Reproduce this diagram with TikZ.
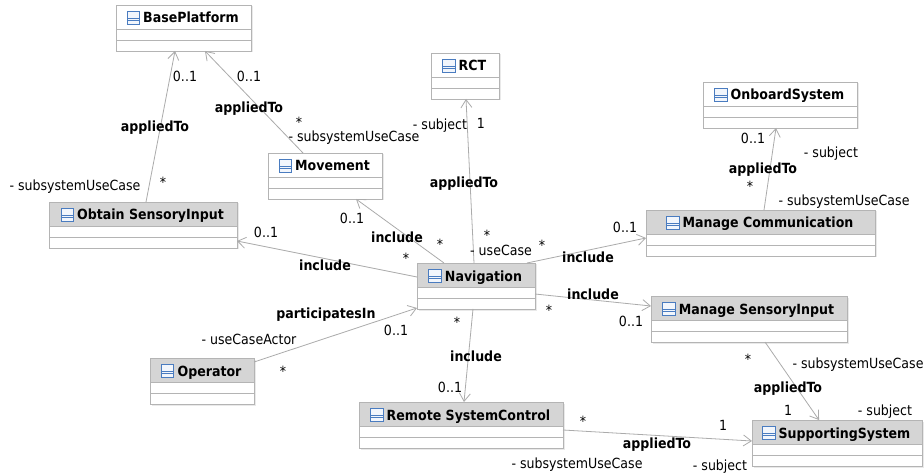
\documentclass[tikz,border=0pt]{standalone}
\usepackage{fontspec}
\setmainfont{DejaVu Sans Condensed}[BoldFont={DejaVu Sans Condensed Bold}]
\usetikzlibrary{arrows.meta}

\definecolor{linegray}{HTML}{ABABAB}
\definecolor{framegray}{HTML}{B4B4B4}
\definecolor{headgray}{HTML}{D5D5D5}
\definecolor{shadowgray}{HTML}{E9E9E9}
\definecolor{iconblue}{HTML}{4A7CC0}
\definecolor{iconfill}{HTML}{F2F6FC}

\tikzset{
  classframe/.style={fill=white, inner sep=0pt, outer sep=0pt,
    minimum height=46pt, anchor=north west},
  classborder/.style={draw=framegray, line width=0.9pt},
  compline/.style={draw=framegray, line width=0.8pt},
  classtitle/.style={font=\bfseries\fontsize{14}{16}\selectfont, inner sep=0pt, anchor=base},
  classicon/.style={draw=iconblue, fill=iconfill, line width=0.9pt, minimum width=12.5pt,
    minimum height=13pt, inner sep=0pt, anchor=south east,
    path picture={
      \draw[iconblue, line width=0.7pt]
        ([yshift=6.5pt]path picture bounding box.south west) -- ([yshift=6.5pt]path picture bounding box.south east)
        ([yshift=3.8pt]path picture bounding box.south west) -- ([yshift=3.8pt]path picture bounding box.south east);
    }},
  role/.style={font=\fontsize{14}{16}\selectfont, inner sep=0pt, anchor=base},
  assocname/.style={font=\bfseries\fontsize{14}{16}\selectfont, inner sep=0pt, anchor=base},
  assoc/.style={draw=linegray, line width=0.8pt,
    -{Straight Barb[length=8pt,width=11pt,line width=0.8pt]}},
}

% \umlclass{name}{left}{top}{width}{header fill}{title}
\newcommand{\umlclass}[6]{%
  \fill[shadowgray] (#2+1.5,#3+1.5) rectangle ++(#4,46);
  \node[classframe, minimum width=#4pt] (#1) at (#2,#3) {};
  \fill[#5] (#1.north west) rectangle ([yshift=-24pt]#1.north east);
  \draw[compline] ([yshift=-24pt]#1.north west) -- ([yshift=-24pt]#1.north east);
  \draw[compline] ([yshift=-35pt]#1.north west) -- ([yshift=-35pt]#1.north east);
  \node[classtitle] (#1-t) at ([xshift=7.5pt,yshift=-18pt]#1.north) {#6};
  \node[classicon] (#1-i) at ([xshift=-3pt,yshift=-2pt]#1-t.base west) {};
  \draw[classborder] (#1.north west) rectangle (#1.south east);
}

\begin{document}
\begin{tikzpicture}[x=1pt, y=-1pt]
\useasboundingbox (0,0) rectangle (924,473);
\fill[white] (0,0) rectangle (924,473);

% classes
\umlclass{bp}{116}{5}{135}{white}{BasePlatform}
\umlclass{os}{49}{202}{188}{headgray}{Obtain SensoryInput}
\umlclass{mv}{268}{153}{114}{white}{Movement}
\umlclass{rct}{431}{53}{68}{white}{RCT}
\umlclass{ob}{703}{82}{154}{white}{OnboardSystem}
\umlclass{mc}{646}{210}{229}{headgray}{Manage Communication}
\umlclass{nav}{417}{263}{118}{headgray}{Navigation}
\umlclass{ms}{651}{296}{196}{headgray}{Manage SensoryInput}
\umlclass{op}{150}{358}{104}{headgray}{Operator}
\umlclass{rs}{359}{402}{204}{headgray}{Remote SystemControl}
\umlclass{ss}{752}{420}{170}{headgray}{SupportingSystem}

% associations
\draw[assoc] ([xshift=97pt]os.north west) -- ([xshift=59pt]bp.south west);
\draw[assoc] ([xshift=35pt]mv.north west) -- ([xshift=89pt]bp.south west);
\draw[assoc] ([xshift=57pt]nav.north west) -- ([xshift=35pt]rct.south west);
\draw[assoc] ([xshift=27pt]nav.north west) -- ([xshift=88pt]mv.south west);
\draw[assoc] ([yshift=-14pt]nav.north west) -- ([yshift=-39pt]os.north east);
\draw[assoc] ([xshift=110pt]nav.north west) -- ([yshift=-28pt]mc.north west);
\draw[assoc] ([yshift=-31pt]nav.north east) -- ([yshift=-10pt]ms.north west);
\draw[assoc] ([xshift=56pt]nav.south west) -- ([xshift=105pt]rs.north west);
\draw[assoc] ([yshift=-4pt]op.north east) -- ([yshift=1pt]nav.south west);
\draw[assoc] ([xshift=118pt]mc.north west) -- ([xshift=73pt]ob.south west);
\draw[assoc] ([xshift=114pt]ms.south west) -- ([xshift=67pt]ss.north west);
\draw[assoc] ([yshift=-28pt]rs.north east) -- ([yshift=-21pt]ss.north west);

% Obtain SensoryInput -> BasePlatform
\node[role] (a1m) at (185,82) {0..1};
\node[assocname] (a1n) at (155,132) {appliedTo};
\node[role] (a1s) at (163,188) {*};
\node[role] (a1r) at (75,191) {- subsystemUseCase};
% Movement -> BasePlatform
\node[role] (a2m) at (249,82) {0..1};
\node[assocname] (a2n) at (249,113) {appliedTo};
\node[role] (a2s) at (299,128) {*};
\node[role] (a2r) at (354,142) {- subsystemUseCase};
% Navigation -> RCT
\node[role] (a3r) at (440,130) {- subject};
\node[role] (a3m) at (481,129) {1};
\node[assocname] (a3n) at (464,188) {appliedTo};
\node[role] (a3s) at (487,241) {*};
\node[role] (a3u) at (501,256) {- useCase};
% Navigation -> Movement
\node[role] (a4m) at (352,224) {0..1};
\node[assocname] (a4n) at (397,243) {include};
\node[role] (a4s) at (440,250) {*};
% Navigation -> Obtain SensoryInput
\node[role] (a5m) at (266,238) {0..1};
\node[assocname] (a5n) at (325,271) {include};
\node[role] (a5s) at (406,264) {*};
% Navigation -> Manage Communication
\node[role] (a6m) at (625,233) {0..1};
\node[assocname] (a6n) at (588,263) {include};
\node[role] (a6s) at (542,251) {*};
% Navigation -> Manage SensoryInput
\node[assocname] (a7n) at (593,299) {include};
\node[role] (a7s) at (549,316) {*};
\node[role] (a7m) at (631,326) {0..1};
% Navigation -> Remote SystemControl
\node[role] (a8s) at (457,327) {*};
\node[assocname] (a8n) at (476,361) {include};
\node[role] (a8m) at (450,392) {0..1};
% Operator -> Navigation
\node[assocname] (a9n) at (326,318) {participatesIn};
\node[role] (a9m) at (396,335) {0..1};
\node[role] (a9r) at (249,344) {- useCaseActor};
\node[role] (a9s) at (283,376) {*};
% Manage Communication -> OnboardSystem
\node[role] (a10m) at (753,144) {0..1};
\node[role] (a10r) at (831,158) {- subject};
\node[assocname] (a10n) at (763,174) {appliedTo};
\node[role] (a10s) at (750,192) {*};
\node[role] (a10u) at (844,206) {- subsystemUseCase};
% Manage SensoryInput -> SupportingSystem
\node[role] (a11s) at (748,364) {*};
\node[role] (a11u) at (858,368) {- subsystemUseCase};
\node[assocname] (a11n) at (788,392) {appliedTo};
\node[role] (a11m) at (788,415) {1};
\node[role] (a11r) at (885,415) {- subject};
% Remote SystemControl -> SupportingSystem
\node[role] (a12s) at (583,426) {*};
\node[role] (a12m) at (723,430) {1};
\node[assocname] (a12n) at (657,448) {appliedTo};
\node[role] (a12u) at (577,468) {- subsystemUseCase};
\node[role] (a12r) at (720,470) {- subject};
\end{tikzpicture}
\end{document}
